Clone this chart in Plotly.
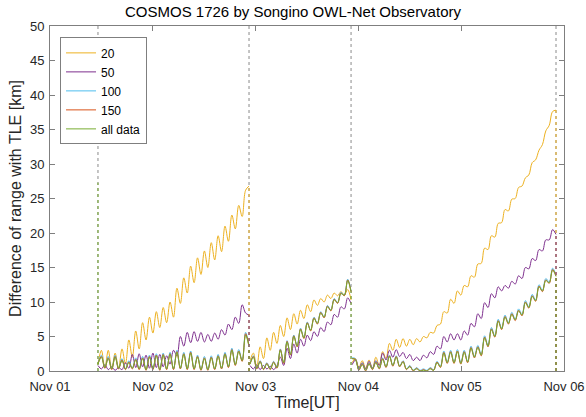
import plotly.graph_objects as go
import pandas as pd

# Segment time windows (UT)
seg_start = ["2016-11-01 11:12", "2016-11-02 22:42", "2016-11-03 22:31"]
seg_end = ["2016-11-02 22:28", "2016-11-03 22:17", "2016-11-05 22:08"]

day_ticks = ["2016-11-01", "2016-11-02", "2016-11-03", "2016-11-04", "2016-11-05", "2016-11-06"]

# ---- 20 ----
r20_s1 = [1.0, 3.0, 0.5, 3.0, 0.3, 2.6, 0.4, 3.2, 1.0, 4.5, 2.0, 5.8, 3.2, 7.0, 4.5, 7.8, 5.5, 8.6, 6.3, 9.2,
          7.0, 10.0, 7.8, 12.0, 9.8, 13.5, 11.3, 15.2, 12.8, 16.4, 14.0, 17.4, 15.0, 18.6, 16.1, 19.6, 17.3,
          21.0, 18.8, 22.6, 20.6, 24.0, 22.4, 26.2, 26.8]
r20_s2 = [1.5, 2.6, 0.5, 3.5, 1.8, 4.8, 3.0, 5.6, 4.0, 6.6, 5.0, 7.7, 6.0, 8.3, 6.8, 8.8, 7.6, 9.6, 8.6, 10.3,
          9.5, 10.5, 10.0, 11.0, 10.5, 11.3, 10.9, 11.5, 11.0, 11.8, 10.3]
r20_s3 = [1.2, 1.8, 0.5, 1.5, 0.4, 1.6, 0.3, 2.0, 0.8, 2.8, 1.8, 4.0, 3.0, 4.6, 3.4, 4.7, 3.6, 4.6, 3.8, 4.7,
          4.2, 5.0, 4.8, 5.6, 5.5, 6.6, 6.8, 8.6, 8.4, 10.4, 9.8, 11.6, 11.0, 12.4, 12.2, 13.8, 13.6, 15.5,
          15.6, 17.8, 17.6, 19.6, 19.4, 21.4, 21.5, 23.4, 23.2, 24.9, 25.0, 26.6, 26.8, 28.0, 28.4, 30.2,
          30.6, 32.0, 32.8, 34.8, 35.6, 37.6, 37.8]

# ---- 50 ----
r50_s1 = [0.8, 0.3, 0.9, 0.2, 0.6, 0.1, 0.5, 0.2, 1.2, 0.4, 2.4, 0.5, 2.5, 0.6, 2.3, 0.4, 2.6, 0.5, 2.4, 0.6,
          2.2, 1.0, 3.0, 2.2, 5.0, 3.6, 5.6, 4.1, 5.7, 4.3, 5.6, 4.2, 5.3, 4.3, 5.5, 4.6, 6.0, 5.2, 6.8, 6.0,
          7.8, 6.9, 9.6, 8.4, 8.1]
r50_s2 = [0.8, 0.3, 0.9, 0.2, 0.8, 0.3, 0.7, 0.2, 0.8, 2.0, 0.8, 3.3, 1.8, 3.9, 2.6, 4.6, 3.6, 5.2, 4.4, 5.7,
          5.0, 6.3, 5.7, 7.1, 6.7, 8.2, 7.8, 9.3, 9.0, 10.6, 9.8]
r50_s3 = [0.9, 1.6, 0.4, 1.2, 0.3, 1.4, 0.4, 1.5, 0.8, 2.6, 1.6, 3.0, 2.0, 3.1, 2.1, 2.7, 1.8, 2.4, 1.5, 2.0,
          1.5, 2.3, 1.9, 2.8, 2.4, 3.6, 3.2, 5.0, 4.2, 5.4, 4.5, 5.4, 4.5, 5.8, 5.2, 6.9, 6.4, 8.3, 7.6, 9.9,
          9.2, 11.2, 10.6, 12.2, 11.6, 12.4, 12.0, 13.0, 12.6, 13.8, 13.4, 15.0, 14.8, 16.3, 16.0, 17.6,
          17.4, 19.0, 19.0, 20.5, 19.8]

# ---- 100 ----
r100_s1 = [1.1, 2.3, 0.5, 2.1, 0.3, 2.3, 0.4, 1.8, 0.3, 1.5, 0.4, 1.9, 0.3, 2.1, 0.2, 2.3, 0.3, 2.5, 0.2, 2.6,
           0.3, 2.7, 0.3, 3.0, 0.4, 2.7, 0.3, 2.9, 0.3, 2.3, 0.2, 2.1, 0.2, 2.2, 0.3, 2.4, 0.4, 2.7, 0.6, 3.3,
           0.9, 3.1, 1.5, 5.6, 3.7]
r100_s2 = [1.1, 2.2, 0.4, 1.5, 0.3, 1.2, 0.3, 1.4, 0.5, 3.2, 1.2, 4.4, 2.4, 5.2, 3.6, 6.2, 4.8, 7.1, 5.9, 7.8,
           6.9, 8.6, 7.8, 9.5, 8.8, 10.5, 9.9, 11.4, 11.0, 13.3, 11.6]
r100_s3 = [1.9, 1.8, 0.2, 1.1, 0.1, 1.2, 0.3, 1.4, 0.4, 1.9, 0.6, 2.3, 0.8, 2.2, 0.7, 1.5, 0.3, 0.8, 0.1, 0.5,
           0.1, 0.3, 0.1, 0.5, 0.2, 1.4, 0.7, 2.9, 1.3, 3.0, 1.3, 3.1, 1.2, 3.0, 1.4, 3.6, 2.1, 3.7, 2.4, 5.1,
           3.7, 6.3, 5.1, 7.5, 6.2, 8.1, 7.0, 8.5, 7.5, 9.0, 8.2, 10.2, 9.3, 11.1, 10.3, 12.5, 11.7, 13.4,
           12.9, 14.9, 13.9]

# ---- 150 ----
r150_s1 = [1.0, 2.1, 0.4, 1.9, 0.2, 2.1, 0.3, 1.6, 0.2, 1.3, 0.3, 1.7, 0.2, 1.9, 0.1, 2.1, 0.2, 2.3, 0.1, 2.4,
           0.2, 2.5, 0.2, 2.8, 0.3, 2.5, 0.2, 2.7, 0.2, 2.1, 0.1, 1.9, 0.1, 2.0, 0.2, 2.2, 0.3, 2.5, 0.5, 3.1,
           0.8, 2.9, 1.4, 5.4, 3.6]
r150_s2 = [1.0, 2.1, 0.3, 1.4, 0.2, 1.1, 0.2, 1.3, 0.4, 3.1, 1.1, 4.3, 2.3, 5.1, 3.5, 6.1, 4.7, 7.0, 5.8, 7.7,
           6.8, 8.5, 7.7, 9.4, 8.7, 10.4, 9.8, 11.3, 10.9, 13.2, 11.5]
r150_s3 = [1.8, 1.7, 0.1, 1.0, 0.0, 1.1, 0.2, 1.3, 0.3, 1.8, 0.5, 2.2, 0.7, 2.1, 0.6, 1.4, 0.2, 0.7, 0.0, 0.4,
           0.0, 0.2, 0.0, 0.4, 0.1, 1.3, 0.5, 2.7, 1.1, 2.8, 1.1, 2.9, 1.0, 2.8, 1.2, 3.4, 1.9, 3.5, 2.2, 4.9,
           3.5, 6.1, 4.9, 7.3, 6.0, 7.9, 6.8, 8.3, 7.3, 8.8, 8.0, 10.0, 9.1, 10.9, 10.1, 12.3, 11.5, 13.2,
           12.7, 14.7, 13.8]

# ---- all data ----
rall_s1 = [1.0, 2.0, 0.5, 1.8, 0.3, 2.0, 0.4, 1.5, 0.3, 1.2, 0.4, 1.6, 0.3, 1.8, 0.2, 2.0, 0.3, 2.2, 0.2, 2.3,
           0.3, 2.4, 0.3, 2.7, 0.4, 2.4, 0.3, 2.6, 0.3, 2.0, 0.2, 1.8, 0.2, 1.9, 0.3, 2.1, 0.4, 2.4, 0.6, 3.0,
           0.9, 2.8, 1.5, 5.2, 3.5]
rall_s2 = [1.0, 2.0, 0.4, 1.3, 0.3, 1.0, 0.3, 1.2, 0.5, 3.0, 1.2, 4.2, 2.4, 5.0, 3.6, 6.0, 4.8, 6.9, 5.9, 7.6,
           6.9, 8.4, 7.8, 9.3, 8.8, 10.3, 9.9, 11.2, 11.0, 13.1, 11.5]
rall_s3 = [1.8, 1.6, 0.2, 0.9, 0.1, 1.0, 0.3, 1.2, 0.4, 1.7, 0.6, 2.1, 0.8, 2.0, 0.7, 1.3, 0.3, 0.6, 0.1, 0.3,
           0.0, 0.1, 0.0, 0.3, 0.1, 1.2, 0.6, 2.6, 1.2, 2.7, 1.2, 2.8, 1.1, 2.7, 1.3, 3.3, 2.0, 3.4, 2.3, 4.8,
           3.6, 6.0, 5.0, 7.2, 6.1, 7.8, 6.9, 8.2, 7.4, 8.7, 8.1, 9.9, 9.2, 10.8, 10.2, 12.2, 11.6, 13.1,
           12.8, 14.6, 13.7]
rall_start_spike = 27.3

names = ["20", "50", "100", "150", "all data"]
colors = ["#EDB120", "#7E2F8E", "#4DBEEE", "#D95319", "#77AC30"]
series = [
    [r20_s1, r20_s2, r20_s3],
    [r50_s1, r50_s2, r50_s3],
    [r100_s1, r100_s2, r100_s3],
    [r150_s1, r150_s2, r150_s3],
    [rall_s1, rall_s2, rall_s3],
]


def build(segs):
    xs, ys = [], []
    for k, vals in enumerate(segs):
        t = pd.date_range(seg_start[k], seg_end[k], periods=len(vals))
        xs += list(t)
        ys += list(vals)
        xs.append(None)
        ys.append(None)
    return xs, ys


fig = go.Figure()

# dotted boundary lines (full height)
for t in [seg_start[0], seg_end[0], seg_end[1], seg_end[2]]:
    fig.add_shape(type="line", xref="x", yref="paper", x0=t, x1=t, y0=0, y1=1,
                  line=dict(color="#8a8a8a", width=1, dash="dot"), layer="below")

for name, col, segs in zip(names, colors, series):
    xs, ys = build(segs)
    fig.add_trace(go.Scatter(x=xs, y=ys, mode="lines", name=name,
                             line=dict(color=col, width=1.0, shape="spline", smoothing=1.0),
                             connectgaps=False))

# dotted verticals at segment ends (drop to zero)
for name, col, segs in zip(names, colors, series):
    for k, vals in enumerate(segs):
        if k == 1 and name != "all data":
            continue
        t = seg_end[k]
        fig.add_trace(go.Scatter(x=[t, t], y=[0, vals[-1]], mode="lines", showlegend=False,
                                 line=dict(color=col, width=1.0, dash="dot"), hoverinfo="skip"))

# start spike of "all data"
fig.add_trace(go.Scatter(x=[seg_start[0], seg_start[0]], y=[0, rall_start_spike], mode="lines",
                         showlegend=False, line=dict(color=colors[4], width=1.0, dash="dot"),
                         hoverinfo="skip"))

axis_common = dict(showline=True, linecolor="#7f7f7f", linewidth=1, mirror="ticks",
                   ticks="inside", ticklen=5, tickcolor="#7f7f7f", showgrid=False, zeroline=False,
                   automargin=False, tickfont=dict(size=13, color="#262626"))

fig.update_layout(
    width=586, height=417,
    margin=dict(l=50, r=22, t=26, b=46),
    paper_bgcolor="white", plot_bgcolor="white",
    font=dict(family="Liberation Sans, Arial, Helvetica, sans-serif", size=13, color="#262626"),
    title=dict(text="COSMOS 1726 by Songino OWL-Net Observatory", x=0.5, xanchor="center",
               y=0.973, yref="container", yanchor="middle", font=dict(size=15, color="#000000")),
    showlegend=True,
    legend=dict(x=0.0195, y=0.967, xanchor="left", yanchor="top", bgcolor="white",
                bordercolor="#7f7f7f", borderwidth=1, font=dict(size=12, color="#000000"),
                tracegroupgap=0, itemwidth=30),
)

fig.update_xaxes(type="date", range=[day_ticks[0], day_ticks[-1]], tickvals=day_ticks,
                 tickformat="%b %d", ticklabelstandoff=3,
                 title=dict(text="Time[UT]", font=dict(size=16), standoff=4),
                 **axis_common)
fig.update_yaxes(range=[0, 50], dtick=5, tick0=0, ticklabelstandoff=2,
                 title=dict(text="Difference of range with TLE [km]", font=dict(size=16), standoff=4),
                 **axis_common)

fig.write_html("out.html")
